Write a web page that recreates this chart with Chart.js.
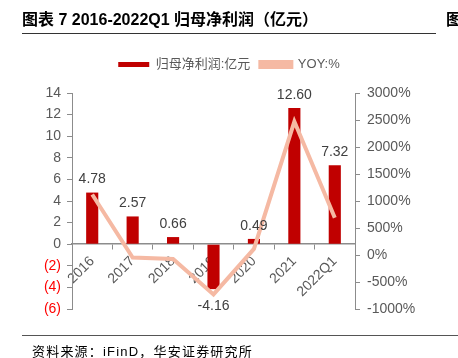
<!DOCTYPE html>
<html>
<head>
<meta charset="utf-8">
<script src="https://cdn.jsdelivr.net/npm/chart.js@4/dist/chart.umd.min.js"></script>
<style>
  html, body { margin: 0; padding: 0; background: #fff; }
  body { width: 458px; height: 358px; position: relative; overflow: hidden;
         font-family: "Liberation Sans", "Noto Sans CJK SC", sans-serif; }
  #wrap { position: absolute; left: 0; top: 0; width: 458px; height: 358px; }
  .title { position: absolute; left: 22px; top: 6px; font-size: 16px; font-weight: bold; color: #000; white-space: nowrap; }
  .title2 { position: absolute; left: 446px; top: 6px; font-size: 16px; font-weight: bold; color: #000; white-space: nowrap; }
  .rule { position: absolute; height: 1px; background: #333; }
  .source { position: absolute; left: 32px; top: 341px; font-size: 13px; letter-spacing: 1.2px; color: #000; white-space: nowrap; }
</style>
</head>
<body>
<div id="wrap"><canvas id="c" width="458" height="358"></canvas></div>
<div class="title">图表 7 2016-2022Q1 归母净利润（亿元）</div>
<div class="title2">图</div>
<div class="rule" style="left:22px; top:33px; width:414px;"></div>
<div class="rule" style="left:22px; top:335px; width:436px; background:#555;"></div>
<div class="source">资料来源：iFinD，华安证券研究所</div>
<script>
const categories = ["2016", "2017", "2018", "2019", "2020", "2021", "2022Q1"];
const profit = [4.78, 2.57, 0.66, -4.16, 0.49, 12.60, 7.32];
const yoy = [1120, -46, -74, -730, 112, 2471, 690];
const leftTicks = [-6, -4, -2, 0, 2, 4, 6, 8, 10, 12, 14];
const rightTicks = [-1000, -500, 0, 500, 1000, 1500, 2000, 2500, 3000];
const profitLabel = "归母净利润:亿元";
const yoyLabel = "YOY:%";

const FONT = '"Liberation Sans", "Noto Sans CJK SC", sans-serif';
const GRAY_TXT = '#595959';
const AXIS = '#8c8c8c';

const legendPad = {
  id: 'legendPad',
  beforeInit(chart) {
    const fit = chart.legend.fit;
    chart.legend.fit = function () {
      fit.bind(chart.legend)();
      this.height = 45;
    };
  }
};

const dataLabels = {
  id: 'dataLabels',
  afterDatasetsDraw(chart) {
    const ctx = chart.ctx;
    const meta = chart.getDatasetMeta(1);
    ctx.save();
    ctx.font = '14px ' + FONT;
    ctx.fillStyle = '#404040';
    ctx.textAlign = 'center';
    meta.data.forEach((el, i) => {
      const v = profit[i];
      if (v >= 0) {
        ctx.textBaseline = 'bottom';
        ctx.fillText(v.toFixed(2), el.x, el.y - 6);
      } else {
        ctx.textBaseline = 'top';
        ctx.fillText(v.toFixed(2), el.x, el.y + 10);
      }
    });
    ctx.restore();
  }
};

new Chart(document.getElementById('c'), {
  data: {
    labels: categories,
    datasets: [
      {
        type: 'line', label: yoyLabel, data: yoy, yAxisID: 'y1',
        borderColor: '#F5B9A3', backgroundColor: '#F5B9A3', borderWidth: 4,
        pointRadius: 0, tension: 0, order: 0
      },
      {
        type: 'bar', label: profitLabel, data: profit, yAxisID: 'y',
        backgroundColor: '#C00000', borderWidth: 0,
        barPercentage: 0.3, categoryPercentage: 1.0, order: 1
      }
    ]
  },
  options: {
    responsive: false, animation: false,
    layout: { padding: { top: 48, bottom: 49, left: 0, right: 0 } },
    plugins: {
      tooltip: { enabled: false },
      legend: {
        position: 'top',
        reverse: true,
        labels: {
          boxWidth: 31, boxHeight: 5, padding: 10,
          color: GRAY_TXT, font: { size: 13, family: FONT }
        }
      }
    },
    scales: {
      x: {
        type: 'category',
        position: { y: 0 },
        offset: true,
        afterFit(s) { s.height = 0; },
        grid: { display: true, drawOnChartArea: false, offset: true, tickLength: 5, color: AXIS },
        border: { display: true, color: AXIS, width: 1.5 },
        ticks: { color: GRAY_TXT, font: { size: 14, family: FONT }, minRotation: 45, maxRotation: 45, padding: 4 }
      },
      y: {
        position: 'left', min: -6, max: 14,
        afterFit(s) { s.width = 72; },
        afterBuildTicks(s) { s.ticks = leftTicks.map(v => ({ value: v })); },
        grid: { display: true, drawOnChartArea: false, tickLength: 5, color: AXIS },
        border: { display: true, color: AXIS },
        ticks: {
          padding: 6,
          font: { size: 14, family: FONT },
          color: (c) => (c.tick && c.tick.value < 0) ? '#FF0000' : GRAY_TXT,
          callback: (v) => v < 0 ? '(' + Math.abs(v) + ')' : String(v)
        }
      },
      y1: {
        position: 'right', min: -1000, max: 3000,
        afterFit(s) { s.width = 103; },
        afterBuildTicks(s) { s.ticks = rightTicks.map(v => ({ value: v })); },
        grid: { display: true, drawOnChartArea: false, tickLength: 5, color: AXIS },
        border: { display: true, color: AXIS },
        ticks: {
          padding: 7,
          font: { size: 14, family: FONT },
          color: GRAY_TXT,
          callback: (v) => v + '%'
        }
      }
    }
  },
  plugins: [legendPad, dataLabels]
});
</script>
</body>
</html>
